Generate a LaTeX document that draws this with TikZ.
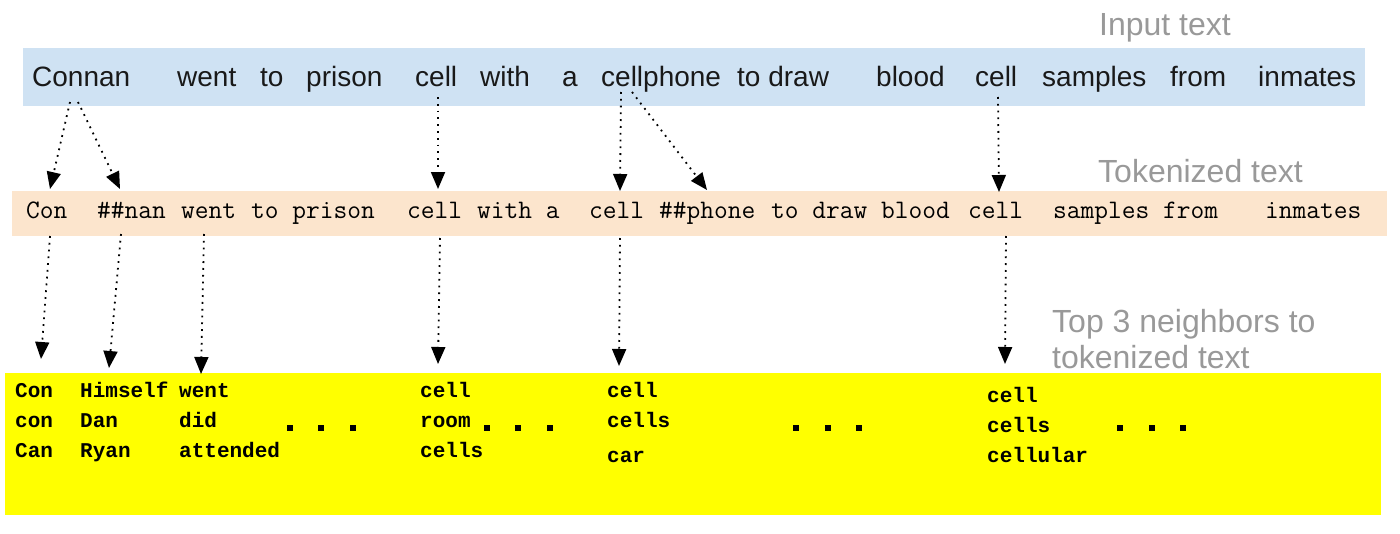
\documentclass[tikz,border=0pt]{standalone}
\usepackage{fontspec}
\setmainfont{Liberation Sans}
\newfontfamily\monof{Liberation Mono}
\usetikzlibrary{arrows.meta,calc}
\definecolor{inblue}{HTML}{CFE2F3}
\definecolor{tokpeach}{HTML}{FCE5CD}
\definecolor{nbyellow}{HTML}{FFFF00}
\definecolor{lblgray}{HTML}{999999}
\begin{document}
\begin{tikzpicture}[x=1pt,y=-1pt,
  boxbg/.style={anchor=north west, inner sep=0pt, draw=none},
  inword/.style={anchor=base west, inner sep=0pt, text=black!90, font=\fontsize{28}{30}\selectfont},
  tokword/.style={anchor=base west, inner sep=0pt, font=\ttfamily\fontsize{26.7}{30}\selectfont},
  nbword/.style={anchor=base west, inner sep=0pt, font=\monof\bfseries\fontsize{21}{24}\selectfont},
  lbl/.style={anchor=base west, inner sep=0pt, text=lblgray, font=\fontsize{32}{36}\selectfont},
  arr/.style={-{Triangle[length=17pt,width=14pt]}, line width=1.8pt, dash pattern=on 1.8pt off 5pt},
  dotsq/.style={fill=black}]
\useasboundingbox (0,0) rectangle (1400,533);

% background boxes
\node[boxbg, fill=inblue, minimum width=1342pt, minimum height=58pt] (inbox) at (23,48) {};
\node[boxbg, fill=tokpeach, minimum width=1375pt, minimum height=45pt] (tokbox) at (12,191) {};
\node[boxbg, fill=nbyellow, minimum width=1376pt, minimum height=142pt] (nbbox) at (5,373) {};

% labels
\node[lbl] (lin) at (1099,35) {Input text};
\node[lbl] (ltok) at (1098,182) {Tokenized text};
\node[lbl] (lnb1) at (1052,332) {Top 3 neighbors to};
\node[lbl] (lnb2) at (1052,368) {tokenized text};

% input words
\node[inword] (iConnan) at (32,86) {Connan};
\node[inword] (iwent) at (177,86) {went};
\node[inword] (ito) at (260,86) {to};
\node[inword] (iprison) at (306,86) {prison};
\node[inword] (icellA) at (415,86) {cell};
\node[inword] (iwith) at (480,86) {with};
\node[inword] (ia) at (562,86) {a};
\node[inword] (icellphone) at (601,86) {cellphone};
\node[inword] (itodraw) at (737,86) {to draw};
\node[inword] (iblood) at (876,86) {blood};
\node[inword] (icellB) at (975,86) {cell};
\node[inword] (isamples) at (1042,86) {samples};
\node[inword] (ifrom) at (1170,86) {from};
\node[inword] (iinmates) at (1258,86) {inmates};

% tokenized words
\node[tokword] (tCon) at (26,218) {Con};
\node[tokword] (tnan) at (97,218) {\#\#nan};
\node[tokword] (twent) at (181,218) {went};
\node[tokword] (ttoprison) at (251,218) {to prison};
\node[tokword] (tcellA) at (407,218) {cell};
\node[tokword] (twitha) at (477,218) {with a};
\node[tokword] (tcellB) at (589,218) {cell};
\node[tokword] (tphone) at (659,218) {\#\#phone};
\node[tokword] (ttodraw) at (771,218) {to draw blood};
\node[tokword] (tcellC) at (968,218) {cell};
\node[tokword] (tsamples) at (1053,218) {samples from};
\node[tokword] (tinmates) at (1265,218) {inmates};

% neighbours
\node[nbword] (nCon1) at (15,397) {Con};
\node[nbword] (nCon2) at (15,427) {con};
\node[nbword] (nCon3) at (15,457) {Can};
\node[nbword] (nHim1) at (80,397) {Himself};
\node[nbword] (nHim2) at (80,427) {Dan};
\node[nbword] (nHim3) at (80,457) {Ryan};
\node[nbword] (nWent1) at (179,397) {went};
\node[nbword] (nWent2) at (179,427) {did};
\node[nbword] (nWent3) at (179,457) {attended};
\node[nbword] (nCA1) at (420,397) {cell};
\node[nbword] (nCA2) at (420,427) {room};
\node[nbword] (nCA3) at (420,457) {cells};
\node[nbword] (nCB1) at (607,397) {cell};
\node[nbword] (nCB2) at (607,427) {cells};
\node[nbword] (nCB3) at (607,462) {car};
\node[nbword] (nCC1) at (987,402) {cell};
\node[nbword] (nCC2) at (987,432) {cells};
\node[nbword] (nCC3) at (987,462) {cellular};

% ellipsis dots
\foreach \x in {290,321,353,487,518,550,796,828,859,1120,1152,1183}
  \fill[dotsq] (\x-3,425) rectangle (\x+3,431);

% arrows: input -> tokenized
\draw[arr] ($(iConnan.base west)+(38,16)$) -- ($(tCon.base west)+(24,-29)$);
\draw[arr] ($(iConnan.base west)+(46,16)$) -- ($(tnan.base west)+(23,-29)$);
\draw[arr] ($(icellA.base west)+(23,11)$) -- ($(tcellA.base west)+(31,-29)$);
\draw[arr] ($(icellphone.base west)+(20,6)$) -- ($(tcellB.base west)+(31,-27)$);
\draw[arr] ($(icellphone.base west)+(31,6)$) -- ($(tphone.base west)+(48,-28)$);
\draw[arr] ($(icellB.base west)+(23,11)$) -- ($(tcellC.base west)+(31,-26)$);

% arrows: tokenized -> neighbours
\draw[arr] ($(tCon.base west)+(24,18)$) -- ($(nCon1.base west)+(26,-38)$);
\draw[arr] ($(tnan.base west)+(24,16)$) -- ($(nHim1.base west)+(29,-29)$);
\draw[arr] ($(twent.base west)+(23,16)$) -- ($(nWent1.base west)+(22,-23)$);
\draw[arr] ($(tcellA.base west)+(33,20)$) -- ($(nCA1.base west)+(18,-33)$);
\draw[arr] ($(tcellB.base west)+(31,20)$) -- ($(nCB1.base west)+(12,-31)$);
\draw[arr] ($(tcellC.base west)+(38,18)$) -- ($(nCC1.base west)+(18,-38)$);
\end{tikzpicture}
\end{document}
